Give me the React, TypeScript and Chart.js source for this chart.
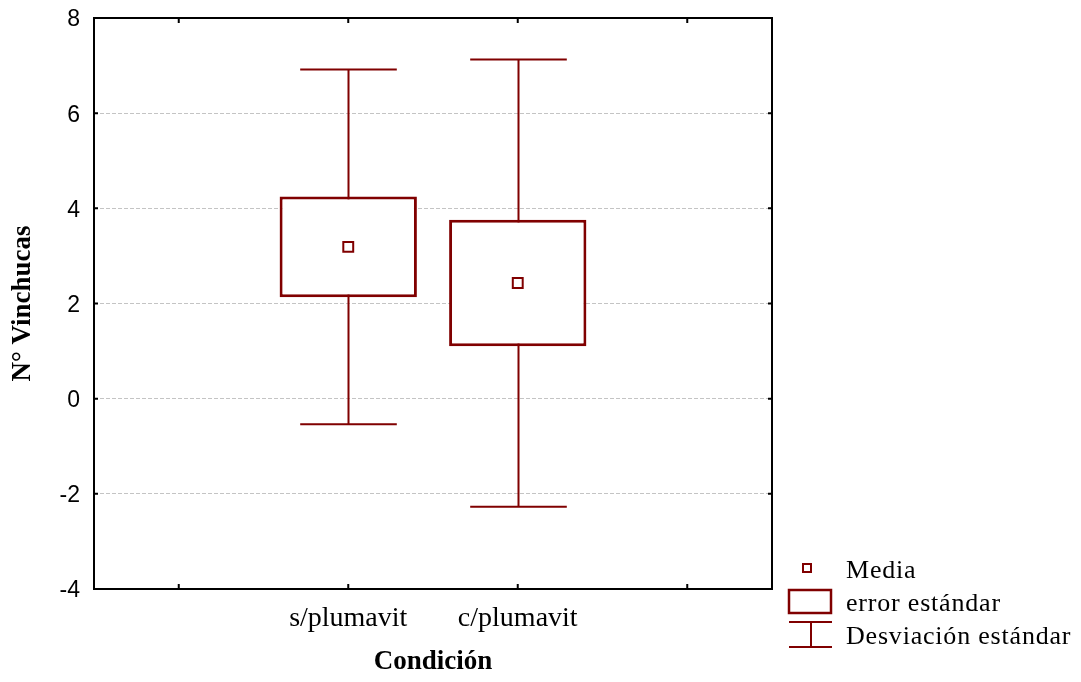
import { useEffect, useRef } from 'react';
import { Chart, registerables } from 'chart.js';

Chart.register(...registerables);

// Categories on the x axis (outer slots are empty padding positions)
const categories: string[] = ['', 's/plumavit', 'c/plumavit', ''];
// Mean number of vinchucas per condition
const means: (number | null)[] = [null, 3.19, 2.43, null];
// Standard error (half-height of the box)
const stdErrors: (number | null)[] = [null, 1.06, 1.33, null];
// Standard deviation (whisker half-length)
const stdDevs: (number | null)[] = [null, 3.73, 4.7, null];

const yMin = -4;
const yMax = 8;
const yStep = 2;

const DARK_RED = '#800000';
const SERIF = '"Liberation Serif", "Times New Roman", serif';
const SANS = '"Liberation Sans", Arial, sans-serif';

// Standard-deviation whiskers, drawn under the boxes
const whiskerPlugin = {
  id: 'sdWhiskers',
  beforeDatasetsDraw(chart: any) {
    const { ctx, scales } = chart;
    const x = scales.x;
    const y = scales.y;
    const slot = x.getPixelForValue(1) - x.getPixelForValue(0);
    const half = (slot * 0.57) / 2;
    ctx.save();
    ctx.strokeStyle = DARK_RED;
    ctx.lineWidth = 2;
    means.forEach((m, i) => {
      const sd = stdDevs[i];
      if (m == null || sd == null) return;
      const px = Math.round(x.getPixelForValue(i)) + 0.5;
      const top = y.getPixelForValue(m + sd);
      const bottom = y.getPixelForValue(m - sd);
      ctx.beginPath();
      ctx.moveTo(px, top);
      ctx.lineTo(px, bottom);
      ctx.moveTo(px - half, top);
      ctx.lineTo(px + half, top);
      ctx.moveTo(px - half, bottom);
      ctx.lineTo(px + half, bottom);
      ctx.stroke();
    });
    ctx.restore();
  },
};

// Plot frame with inward tick marks on all four sides, plus the legend
const framePlugin = {
  id: 'frameAndLegend',
  afterDraw(chart: any) {
    const { ctx, chartArea: a, scales } = chart;
    ctx.save();
    ctx.strokeStyle = '#000';
    ctx.lineWidth = 2;
    ctx.strokeRect(a.left, a.top, a.right - a.left, a.bottom - a.top);
    ctx.beginPath();
    for (const t of scales.y.ticks) {
      const py = scales.y.getPixelForValue(t.value);
      ctx.moveTo(a.left, py);
      ctx.lineTo(a.left + 4, py);
      ctx.moveTo(a.right, py);
      ctx.lineTo(a.right - 4, py);
    }
    categories.forEach((_, i) => {
      const px = scales.x.getPixelForValue(i);
      ctx.moveTo(px, a.top);
      ctx.lineTo(px, a.top + 5);
      ctx.moveTo(px, a.bottom);
      ctx.lineTo(px, a.bottom - 5);
    });
    ctx.stroke();

    // Legend
    const lx = a.right + 17;
    const tx = a.right + 74;
    ctx.strokeStyle = DARK_RED;
    ctx.fillStyle = '#fff';
    ctx.lineWidth = 2;
    ctx.fillRect(a.right + 31, 564, 8, 8);
    ctx.strokeRect(a.right + 31, 564, 8, 8);
    ctx.lineWidth = 2.5;
    ctx.strokeRect(lx, 590, 42, 23);
    ctx.lineWidth = 2;
    ctx.beginPath();
    ctx.moveTo(lx, 622);
    ctx.lineTo(lx + 43, 622);
    ctx.moveTo(lx + 22, 622);
    ctx.lineTo(lx + 22, 647);
    ctx.moveTo(lx, 647);
    ctx.lineTo(lx + 43, 647);
    ctx.stroke();

    ctx.fillStyle = '#000';
    ctx.font = '26px ' + SERIF;
    (ctx as any).letterSpacing = '0.8px';
    ctx.textAlign = 'left';
    ctx.textBaseline = 'alphabetic';
    ctx.fillText('Media', tx, 578);
    ctx.fillText('error estándar', tx, 611);
    ctx.fillText('Desviación estándar', tx, 644);
    ctx.restore();
  },
};

export default function App() {
  const canvasRef = useRef<HTMLCanvasElement | null>(null);

  useEffect(() => {
    if (!canvasRef.current) return;
    const boxData = categories.map((_, i) => {
      const m = means[i];
      const se = stdErrors[i];
      return m == null || se == null ? null : [m - se, m + se];
    });

    const chart = new Chart(canvasRef.current, {
      type: 'bar',
      data: {
        labels: categories,
        datasets: [
          {
            type: 'line',
            label: 'Media',
            data: means,
            showLine: false,
            pointStyle: 'rect',
            pointRadius: 7,
            pointBorderWidth: 2,
            pointBackgroundColor: '#fff',
            pointBorderColor: DARK_RED,
            borderColor: DARK_RED,
            order: 0,
          } as any,
          {
            type: 'bar',
            label: 'error estándar',
            data: boxData as any,
            backgroundColor: '#fff',
            borderColor: DARK_RED,
            borderWidth: 3,
            borderSkipped: false,
            barPercentage: 0.81,
            categoryPercentage: 1,
            order: 1,
          } as any,
        ],
      },
      options: {
        animation: false,
        responsive: true,
        maintainAspectRatio: false,
        events: [],
        layout: { padding: { top: 18, right: 309, bottom: 0, left: 0 } },
        plugins: {
          legend: { display: false },
          tooltip: { enabled: false },
        },
        scales: {
          x: {
            type: 'category',
            offset: true,
            grid: { display: false, drawTicks: false },
            border: { display: false },
            ticks: {
              autoSkip: false,
              maxRotation: 0,
              padding: 13,
              color: '#000',
              font: { family: SERIF, size: 28 },
            },
            title: {
              display: true,
              text: 'Condición',
              color: '#000',
              font: { family: SERIF, size: 27, weight: 'bold' },
              padding: { top: 0, bottom: 4 },
            },
            afterFit(scale: any) {
              scale.height = 93;
              scale.paddingLeft = 0;
              scale.paddingRight = 0;
            },
          },
          y: {
            type: 'linear',
            min: yMin,
            max: yMax,
            grid: {
              color: '#c4c4c4',
              lineWidth: 1,
              drawTicks: false,
            },
            border: { display: false, dash: [4, 2] },
            ticks: {
              stepSize: yStep,
              padding: 14,
              labelOffset: 2,
              color: '#000',
              font: { family: SANS, size: 23 },
            },
            title: {
              display: true,
              text: 'N° Vinchucas',
              color: '#000',
              font: { family: SERIF, size: 27, weight: 'bold' },
              padding: { top: 7, bottom: 0 },
            },
            afterFit(scale: any) {
              scale.width = 94;
              scale.paddingTop = 0;
              scale.paddingBottom = 0;
            },
          },
        },
      },
      plugins: [whiskerPlugin, framePlugin],
    });

    return () => chart.destroy();
  }, []);

  return (
    <div style={{ position: 'absolute', left: 0, top: 0, width: 1081, height: 682, background: '#fff' }}>
      <canvas ref={canvasRef} />
    </div>
  );
}
